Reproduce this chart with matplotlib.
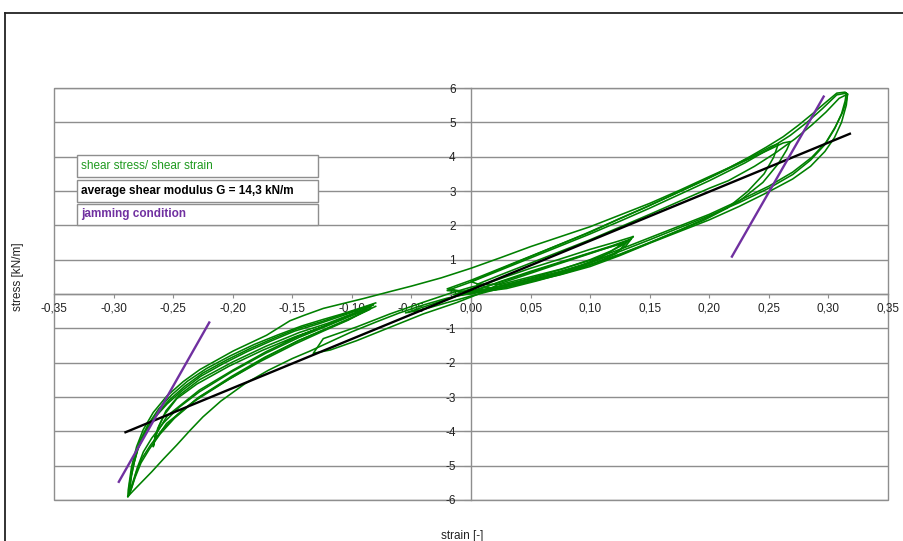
import matplotlib
matplotlib.use("Agg")
import matplotlib.pyplot as plt
from matplotlib.patches import Rectangle
from matplotlib.lines import Line2D
from matplotlib.ticker import FuncFormatter

plt.rcParams['font.family'] = ['Liberation Sans', 'DejaVu Sans']

# ---------------- measured hysteresis paths (strain [-], stress [kN/m]) ----------------
# largest cycle: negative peak -> positive peak -> negative peak
outer_strain = [-0.288, -0.284, -0.277, -0.268, -0.258, -0.247, -0.236, -0.225, -0.210, -0.190,
                -0.170, -0.150, -0.135, -0.120, -0.100, -0.080, -0.060, -0.040, -0.020, 0.000,
                0.025, 0.050, 0.075, 0.100, 0.125, 0.150, 0.175, 0.200, 0.225, 0.250,
                0.270, 0.285, 0.297, 0.305, 0.311, 0.315, 0.316, 0.314,
                0.307, 0.297, 0.287, 0.275, 0.262, 0.248, 0.234, 0.218, 0.200, 0.175,
                0.150, 0.125, 0.100, 0.075, 0.050, 0.025, 0.000, -0.025, -0.050, -0.068,
                -0.090, -0.110, -0.124, -0.140, -0.152, -0.1715, -0.1996, -0.2275, -0.2415, -0.2555,
                -0.2667, -0.2751, -0.2807, -0.2849, -0.2877, -0.288]
outer_stress = [-5.90, -5.75, -5.50, -5.18, -4.80, -4.40, -3.98, -3.58, -3.12, -2.62,
                -2.22, -1.88, -1.66, -1.42, -1.10, -0.82, -0.55, -0.32, -0.12, 0.02,
                0.18, 0.36, 0.56, 0.80, 1.12, 1.48, 1.82, 2.16, 2.55, 2.98,
                3.35, 3.72, 4.15, 4.55, 5.00, 5.50, 5.80, 5.88,
                5.85, 5.56, 5.26, 4.92, 4.58, 4.28, 4.00, 3.70, 3.42, 3.02,
                2.64, 2.30, 1.96, 1.67, 1.38, 1.06, 0.75, 0.47, 0.23, 0.07,
                -0.13, -0.30, -0.42, -0.62, -0.78, -1.20, -1.66, -2.20, -2.55, -2.98,
                -3.45, -3.95, -4.45, -5.03, -5.71, -5.90]

# compression cycles between -0.08 and the negative peak
left_a_strain = [-0.082, -0.095, -0.110, -0.125, -0.145, -0.165, -0.185, -0.205, -0.225, -0.240,
                 -0.253, -0.264, -0.273, -0.279, -0.283, -0.286, -0.287,
                 -0.284, -0.280, -0.275, -0.268, -0.258, -0.245, -0.228, -0.200, -0.172,
                 -0.144, -0.120, -0.100, -0.082]
left_a_stress = [-0.30, -0.45, -0.62, -0.80, -1.00, -1.28, -1.58, -1.92, -2.30, -2.68,
                 -3.08, -3.50, -3.98, -4.45, -4.95, -5.45, -5.85,
                 -5.50, -5.05, -4.60, -4.20, -3.75, -3.30, -2.85, -2.25, -1.72,
                 -1.26, -0.92, -0.63, -0.32]

left_b_strain = [-0.080, -0.092, -0.108, -0.124, -0.142, -0.162, -0.182, -0.202, -0.222, -0.238,
                 -0.251, -0.262, -0.271, -0.278, -0.282, -0.285, -0.2865,
                 -0.2845, -0.281, -0.276, -0.269, -0.259, -0.246, -0.229, -0.201, -0.173,
                 -0.145, -0.121, -0.101, -0.080]
left_b_stress = [-0.26, -0.40, -0.58, -0.74, -0.93, -1.19, -1.47, -1.80, -2.17, -2.54,
                 -2.93, -3.34, -3.80, -4.28, -4.78, -5.30, -5.78,
                 -5.60, -5.20, -4.78, -4.40, -3.95, -3.50, -3.02, -2.40, -1.84,
                 -1.36, -1.00, -0.70, -0.36]

left_e_strain = [-0.084, -0.097, -0.112, -0.128, -0.148, -0.168, -0.188, -0.208, -0.227, -0.242,
                 -0.255, -0.266, -0.274, -0.280, -0.284, -0.2865, -0.2875,
                 -0.2855, -0.282, -0.277, -0.270, -0.261, -0.249, -0.232, -0.204, -0.176,
                 -0.148, -0.124, -0.103, -0.084]
left_e_stress = [-0.34, -0.50, -0.68, -0.87, -1.08, -1.37, -1.68, -2.03, -2.40, -2.80,
                 -3.20, -3.62, -4.08, -4.55, -5.05, -5.50, -5.88,
                 -5.72, -5.35, -4.92, -4.52, -4.08, -3.62, -3.12, -2.50, -1.95,
                 -1.46, -1.08, -0.76, -0.40]

# inner compression cycles turning at about -0.267
left_c_strain = [-0.085, -0.100, -0.120, -0.144, -0.172, -0.200, -0.228, -0.245, -0.256, -0.262,
                 -0.265, -0.2667, -0.266, -0.2555, -0.2275, -0.1996, -0.1715, -0.1436, -0.120,
                 -0.100, -0.085]
left_c_stress = [-0.38, -0.58, -0.85, -1.12, -1.52, -1.98, -2.50, -2.95, -3.40, -3.85,
                 -4.20, -4.45, -4.30, -3.77, -2.99, -2.41, -1.83, -1.34, -1.00,
                 -0.70, -0.45]

left_d_strain = [-0.088, -0.104, -0.124, -0.148, -0.175, -0.203, -0.230, -0.247, -0.257, -0.263,
                 -0.2655, -0.2665, -0.265, -0.255, -0.228, -0.200, -0.172, -0.144, -0.122,
                 -0.104, -0.088]
left_d_stress = [-0.45, -0.66, -0.95, -1.25, -1.64, -2.10, -2.62, -3.05, -3.50, -3.92,
                 -4.25, -4.40, -4.12, -3.55, -2.80, -2.22, -1.68, -1.22, -0.92,
                 -0.66, -0.48]

# small cycle between the origin and -0.132
mid_left_strain = [0.010, -0.012, -0.040, -0.068, -0.096, -0.118, -0.1324,
                   -0.124, -0.096, -0.068, -0.040, -0.0176, 0.000, 0.012]
mid_left_stress = [0.05, -0.25, -0.58, -0.97, -1.36, -1.63, -1.73,
                   -1.30, -0.96, -0.58, -0.24, 0.02, 0.20, 0.30]

# small cycles around the origin up to 0.136
mid_a_strain = [0.136, 0.120, 0.100, 0.075, 0.050, 0.025, 0.000, -0.015,
                0.000, 0.025, 0.050, 0.075, 0.100, 0.120, 0.130, 0.136]
mid_a_stress = [1.67, 1.50, 1.30, 1.02, 0.75, 0.45, 0.15, -0.02,
                0.00, 0.18, 0.40, 0.62, 0.90, 1.18, 1.40, 1.67]

mid_b_strain = [0.134, 0.118, 0.098, 0.074, 0.050, 0.026, 0.004, -0.010,
                0.004, 0.028, 0.052, 0.076, 0.100, 0.118, 0.128, 0.134]
mid_b_stress = [1.60, 1.40, 1.18, 0.92, 0.66, 0.38, 0.10, -0.04,
                0.06, 0.26, 0.48, 0.72, 1.00, 1.26, 1.44, 1.60]

mid_c_strain = [0.132, 0.115, 0.095, 0.072, 0.048, 0.024, 0.012,
                0.030, 0.055, 0.080, 0.104, 0.122, 0.132]
mid_c_stress = [1.55, 1.35, 1.12, 0.86, 0.58, 0.30, 0.08,
                0.16, 0.38, 0.62, 0.90, 1.18, 1.55]

mid_d_strain = [0.128, 0.110, 0.090, 0.068, 0.045, 0.022, 0.000, -0.020, -0.040, -0.055,
                -0.040, -0.020, 0.000, 0.022, 0.045, 0.068, 0.090, 0.110, 0.128]
mid_d_stress = [1.48, 1.30, 1.08, 0.84, 0.58, 0.32, 0.08, -0.15, -0.38, -0.55,
                -0.45, -0.25, -0.06, 0.14, 0.34, 0.56, 0.80, 1.08, 1.48]

# tension cycles up to the positive peak
right_a_strain = [0.315, 0.307, 0.295, 0.282, 0.268, 0.250, 0.230, 0.200, 0.175, 0.150,
                  0.125, 0.100, 0.075, 0.050, 0.025, 0.000, -0.020,
                  0.000, 0.025, 0.050, 0.075, 0.100, 0.125, 0.150, 0.175, 0.200,
                  0.225, 0.250, 0.270, 0.285, 0.297, 0.305, 0.311, 0.314, 0.315]
right_a_stress = [5.85, 5.80, 5.40, 5.00, 4.62, 4.22, 3.82, 3.30, 2.90, 2.50,
                  2.12, 1.75, 1.40, 1.05, 0.70, 0.35, 0.10,
                  0.06, 0.24, 0.44, 0.66, 0.92, 1.24, 1.58, 1.93, 2.28,
                  2.66, 3.08, 3.48, 3.90, 4.35, 4.80, 5.25, 5.62, 5.85]

right_b_strain = [0.316, 0.309, 0.298, 0.286, 0.272, 0.256, 0.238, 0.216, 0.200, 0.175,
                  0.150, 0.125, 0.100, 0.075, 0.050, 0.025, 0.005,
                  0.025, 0.050, 0.075, 0.100, 0.125, 0.150, 0.175, 0.200,
                  0.225, 0.250, 0.270, 0.286, 0.298, 0.306, 0.312, 0.315, 0.316]
right_b_stress = [5.82, 5.70, 5.30, 4.92, 4.52, 4.12, 3.72, 3.30, 3.08, 2.70,
                  2.32, 1.95, 1.58, 1.24, 0.90, 0.56, 0.28,
                  0.28, 0.50, 0.72, 0.98, 1.30, 1.64, 1.98, 2.32,
                  2.72, 3.14, 3.55, 3.98, 4.42, 4.88, 5.30, 5.62, 5.82]

# inner tension cycles turning at about 0.26-0.27
right_c_strain = [0.200, 0.225, 0.245, 0.258, 0.265, 0.268, 0.262, 0.250, 0.230, 0.200,
                  0.175, 0.150, 0.125, 0.100, 0.075, 0.050, 0.025, 0.000, -0.020,
                  0.000, 0.025, 0.050, 0.075, 0.100, 0.125, 0.150, 0.175, 0.200]
right_c_stress = [2.25, 2.70, 3.25, 3.80, 4.20, 4.44, 4.40, 4.20, 3.88, 3.38,
                  2.98, 2.58, 2.20, 1.80, 1.45, 1.10, 0.75, 0.40, 0.15,
                  0.04, 0.22, 0.40, 0.62, 0.86, 1.16, 1.50, 1.86, 2.25]

right_d_strain = [0.215, 0.232, 0.246, 0.254, 0.258, 0.252, 0.240, 0.220, 0.195,
                  0.170, 0.145, 0.120, 0.095, 0.070, 0.045, 0.020, 0.000,
                  0.020, 0.045, 0.070, 0.095, 0.120, 0.145, 0.170, 0.195, 0.215]
right_d_stress = [2.50, 2.98, 3.50, 3.98, 4.38, 4.30, 4.08, 3.74, 3.30,
                  2.90, 2.50, 2.12, 1.74, 1.38, 1.02, 0.66, 0.36,
                  0.12, 0.32, 0.54, 0.78, 1.08, 1.42, 1.78, 2.14, 2.50]

green_paths = [
    (outer_strain, outer_stress),
    (left_a_strain, left_a_stress),
    (left_b_strain, left_b_stress),
    (left_e_strain, left_e_stress),
    (left_c_strain, left_c_stress),
    (left_d_strain, left_d_stress),
    (mid_left_strain, mid_left_stress),
    (mid_a_strain, mid_a_stress),
    (mid_b_strain, mid_b_stress),
    (mid_c_strain, mid_c_stress),
    (mid_d_strain, mid_d_stress),
    (right_a_strain, right_a_stress),
    (right_b_strain, right_b_stress),
    (right_c_strain, right_c_stress),
    (right_d_strain, right_d_stress),
]

# average shear modulus line
G_modulus = 14.3            # kN/m
G_offset = 0.12             # kN/m
G_strain_range = [-0.290, 0.318]

# jamming condition lines (strain, stress end points)
jam_right_strain = [0.219, 0.296]
jam_right_stress = [1.09, 5.75]
jam_left_strain = [-0.2956, -0.2197]
jam_left_stress = [-5.47, -0.83]

x_ticks = [-0.35, -0.30, -0.25, -0.20, -0.15, -0.10, -0.05, 0.00,
           0.05, 0.10, 0.15, 0.20, 0.25, 0.30, 0.35]
y_ticks = [-6, -5, -4, -3, -2, -1, 0, 1, 2, 3, 4, 5, 6]

legend_labels = ["shear stress/ shear strain",
                 "average shear modulus G = 14,3 kN/m",
                 "jamming condition"]

GREEN = "#008000"
PURPLE = "#7030A0"
GRID = "#8e8e8e"

# ---------------- figure ----------------
W, H = 904, 541
fig = plt.figure(figsize=(W / 100, H / 100), dpi=100)
fig.patch.set_facecolor("white")

ax = fig.add_axes([54 / W, (H - 500) / H, 834 / W, 412 / H])
ax.set_xlim(-0.35, 0.35)
ax.set_ylim(-6, 6)
ax.set_axisbelow(True)

# plot-area frame
ax.patch.set_edgecolor(GRID)
ax.patch.set_linewidth(1.0)

for side in ("top", "right"):
    ax.spines[side].set_visible(False)
for side in ("left", "bottom"):
    ax.spines[side].set_position("zero")
    ax.spines[side].set_color(GRID)
    ax.spines[side].set_linewidth(1.0)
    ax.spines[side].set_zorder(0.6)

ax.yaxis.grid(True, color=GRID, linewidth=1.0)
ax.xaxis.grid(False)

ax.set_xticks(x_ticks)
ax.set_yticks(y_ticks)
ax.xaxis.set_major_formatter(FuncFormatter(lambda v, p: f"{v:.2f}".replace("-0.00", "0.00").replace(".", ",")))
ax.yaxis.set_major_formatter(FuncFormatter(lambda v, p: f"{int(round(v))}"))
ax.tick_params(axis="x", direction="out", length=3, width=0.8, color=GRID,
               pad=3, labelsize=8.5, labelcolor="#222222")
ax.tick_params(axis="y", direction="out", length=5, width=0.8, color=GRID,
               pad=6, labelsize=8.5, labelcolor="#222222")

for sx, sy in green_paths:
    ax.plot(sx, sy, color=GREEN, linewidth=1.15, solid_joinstyle="round", zorder=2)

gx = G_strain_range
gy = [G_modulus * v + G_offset for v in gx]
ax.plot(gx, gy, color="black", linewidth=1.7, zorder=3)

ax.plot(jam_right_strain, jam_right_stress, color=PURPLE, linewidth=1.7, zorder=3)
ax.plot(jam_left_strain, jam_left_stress, color=PURPLE, linewidth=1.7, zorder=3)

# axis titles
fig.text(18 / W, 1 - 277 / H, "stress [kN/m]", rotation=90, ha="center", va="center",
         fontsize=8.5, color="#222222")
fig.text(462 / W, 1 - 536 / H, "strain [-]", ha="center", va="center",
         fontsize=8.5, color="#222222")

# legend boxes
box_rows = [(155, 177), (180, 202), (204, 225)]
box_colors = ["#1f9a1f", "black", PURPLE]
box_weights = ["normal", "bold", "bold"]
for (top, bot), label, col, wt in zip(box_rows, legend_labels, box_colors, box_weights):
    fig.patches.append(Rectangle((77 / W, 1 - bot / H), (318 - 77) / W, (bot - top) / H,
                                 transform=fig.transFigure, facecolor="white",
                                 edgecolor=GRID, linewidth=1.0, zorder=5))
    fig.text(81 / W, 1 - (top + bot) / 2 / H, label, ha="left", va="center",
             fontsize=8.5, color=col, fontweight=wt, zorder=6)

# chart-area border (top and left edges)
fig.add_artist(Line2D([5 / W, 1.0], [1 - 13 / H, 1 - 13 / H], transform=fig.transFigure,
                      color="#222222", linewidth=1.3))
fig.add_artist(Line2D([5 / W, 5 / W], [0.0, 1 - 13 / H], transform=fig.transFigure,
                      color="#222222", linewidth=1.3))

fig.savefig("out.png", dpi=100)
